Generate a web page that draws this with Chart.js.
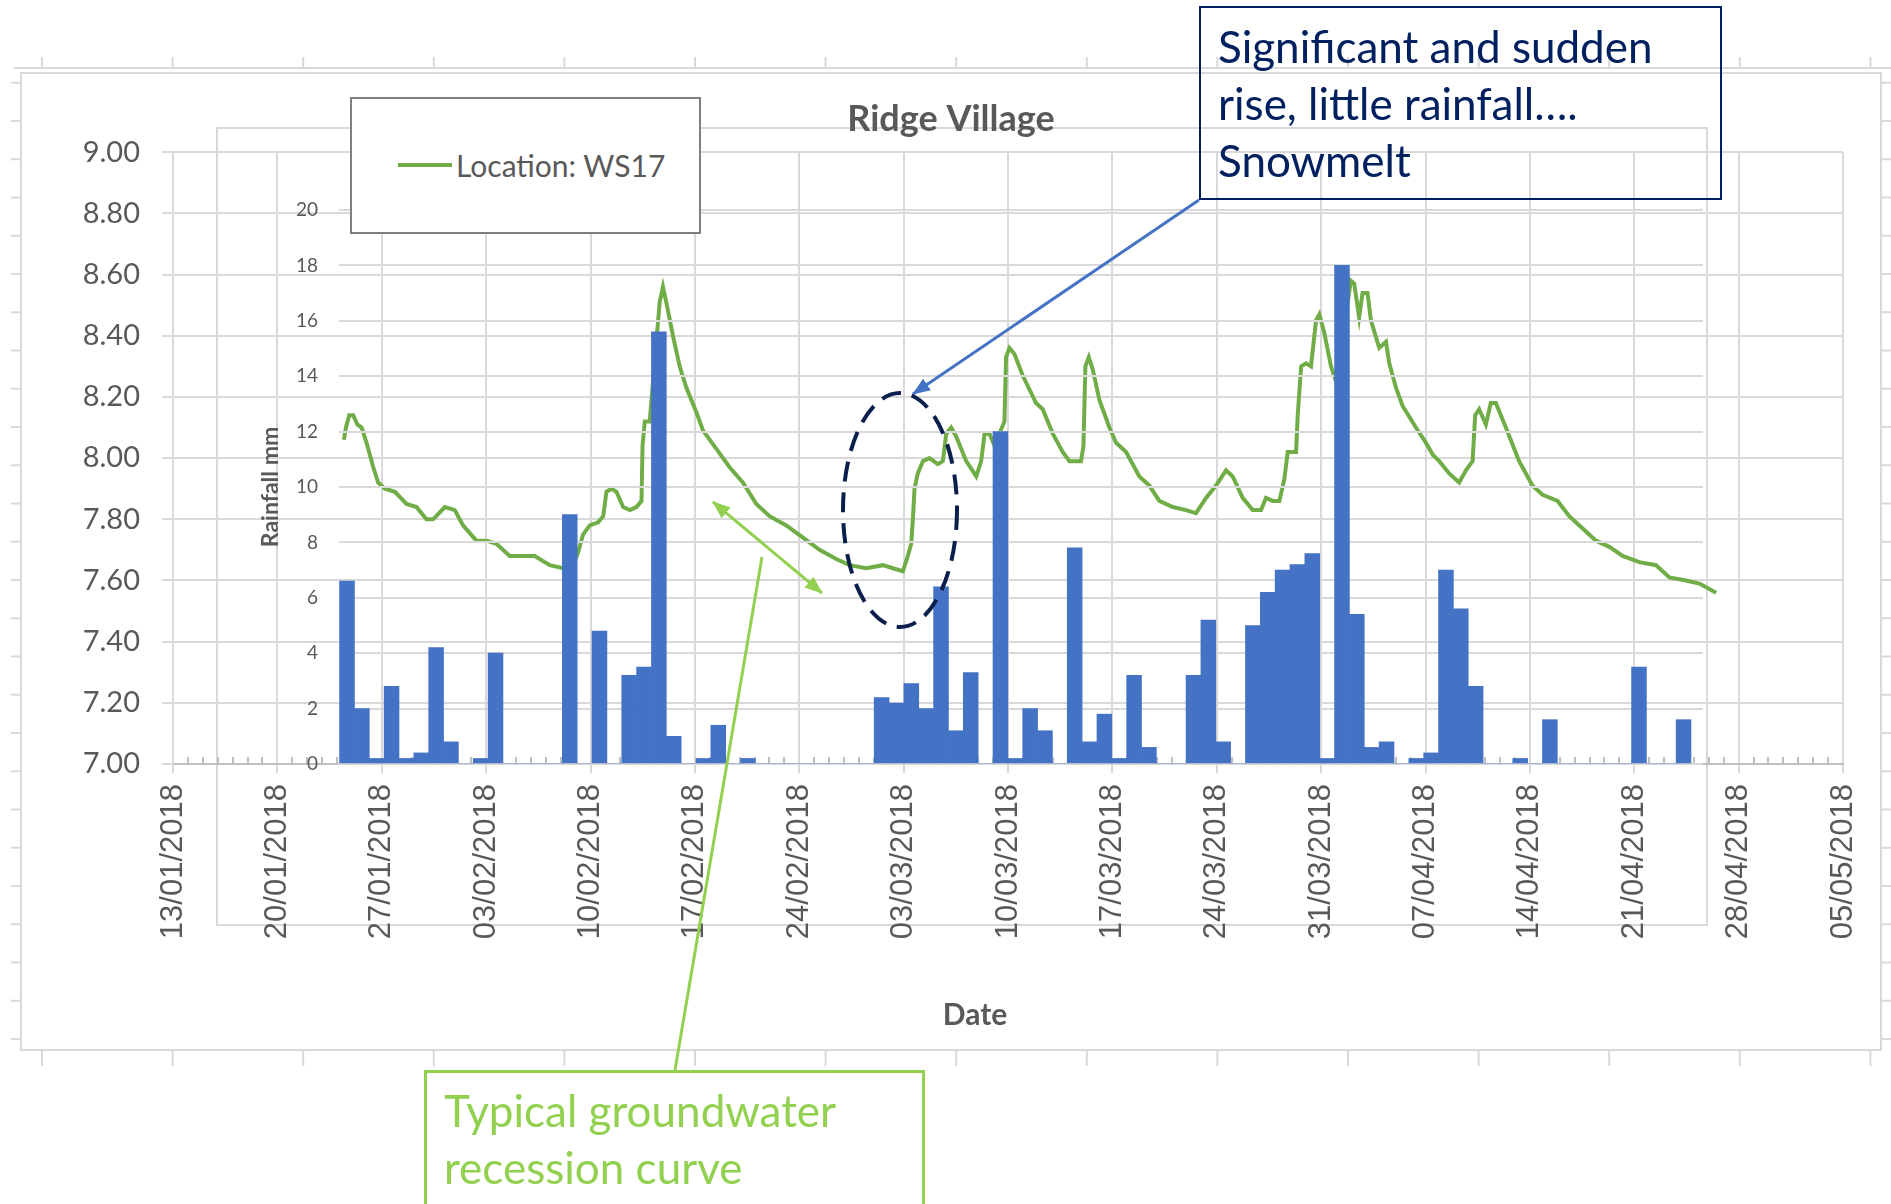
<!DOCTYPE html>
<html>
<head>
<meta charset="utf-8">
<title>Ridge Village</title>
<script src="https://cdn.jsdelivr.net/npm/chart.js@4.4.1/dist/chart.umd.min.js"></script>
<style>
  html, body { margin: 0; padding: 0; background: #fff; }
  #page { position: relative; width: 1891px; height: 1204px; overflow: hidden; background: #fff; }
  #frame, #notes { position: absolute; left: 0; top: 0; }
  #frame { z-index: 0; }
  #levelChart { position: absolute; left: 21px; top: 73px; z-index: 1; }
  #rainChart { position: absolute; left: 217px; top: 128px; z-index: 2; }
  #notes { z-index: 4; }
  .box { position: absolute; box-sizing: border-box; font-family: Lato, "Open Sans", sans-serif; }
  #legendBox { left: 350px; top: 97px; width: 351px; height: 137px; border: 2px solid #7f7f7f; background: #fff; z-index: 3; }
  #legendBox .swatch { position: absolute; left: 46px; top: 64px; width: 54px; height: 4px; background: #70AD47; }
  #legendBox .label { position: absolute; left: 104px; top: 47px; font-size: 30px; line-height: 38px; color: #595959; }
  #dateTitle { left: 875px; top: 994px; width: 200px; text-align: center; font-size: 30px; line-height: 38px;
               font-weight: bold; color: #595959; z-index: 3; }
  #snowNote { left: 1199px; top: 6px; width: 523px; height: 194px; border: 2px solid #002060; color: #002060;
              font-size: 44px; line-height: 57px; padding: 10px 0 0 17px; z-index: 5; }
  #recessionNote { left: 424px; top: 1070px; width: 501px; height: 200px; border: 3px solid #92D050; color: #92D050;
                   font-size: 44px; line-height: 57px; padding: 9px 0 0 17px; z-index: 5; }
</style>
</head>
<body>
<div id="page">
  <svg id="frame" width="1891" height="1204"></svg>
  <canvas id="levelChart" width="1860" height="977"></canvas>
  <canvas id="rainChart" width="1490" height="797"></canvas>
  <div id="legendBox" class="box"><span class="swatch"></span><span class="label" id="legendLabel"></span></div>
  <div id="dateTitle" class="box">Date</div>
  <svg id="notes" width="1891" height="1204">
    <defs>
      <marker id="blueHead" markerUnits="userSpaceOnUse" markerWidth="18" markerHeight="14" refX="17" refY="7" orient="auto">
        <path d="M0,0 L18,7 L0,14 z" fill="#4472C4"></path>
      </marker>
      <marker id="greenHead" markerUnits="userSpaceOnUse" markerWidth="18" markerHeight="14" refX="17" refY="7" orient="auto-start-reverse">
        <path d="M0,0 L18,7 L0,14 z" fill="#92D050"></path>
      </marker>
    </defs>
    <line x1="1199" y1="200" x2="913" y2="394" stroke="#4472C4" stroke-width="3" marker-end="url(#blueHead)"></line>
    <ellipse cx="900" cy="510" rx="57" ry="117" fill="none" stroke="#0b1f4d" stroke-width="4" stroke-dasharray="20 11"></ellipse>
    <line x1="713" y1="502" x2="822" y2="593" stroke="#92D050" stroke-width="3" marker-start="url(#greenHead)" marker-end="url(#greenHead)"></line>
    <line x1="675" y1="1070" x2="762" y2="557" stroke="#92D050" stroke-width="3"></line>
  </svg>
  <div id="snowNote" class="box">Significant and sudden<br>rise, little rainfall….<br>Snowmelt</div>
  <div id="recessionNote" class="box">Typical groundwater<br>recession curve</div>
</div>

<script>
// x positions are days counted from 13/01/2018
const dateTicks = ['13/01/2018', '20/01/2018', '27/01/2018', '03/02/2018', '10/02/2018', '17/02/2018',
    '24/02/2018', '03/03/2018', '10/03/2018', '17/03/2018', '24/03/2018', '31/03/2018', '07/04/2018',
    '14/04/2018', '21/04/2018', '28/04/2018', '05/05/2018'];

// groundwater level, Location: WS17
const levelDays = [11.46, 11.6, 11.82, 12.09, 12.36, 12.65, 12.98, 13.43, 13.76, 14.21, 14.88, 15.66, 16.33,
    17.0, 17.45, 18.23, 18.9, 19.45, 20.35, 21.02, 21.69, 22.58, 23.25, 24.26, 25.27, 26.16, 26.83, 27.16,
    27.5, 27.95, 28.51, 28.85, 29.07, 29.41, 29.74, 30.19, 30.64, 31.08, 31.42, 31.49, 31.64, 31.97, 32.64,
    32.86, 33.08, 33.53, 33.98, 34.43, 35.1, 35.55, 36.44, 37.33, 38.23, 39.12, 40.01, 41.13, 42.25, 43.36,
    44.48, 45.37, 46.49, 47.61, 48.28, 48.95, 49.28, 49.51, 49.62, 49.73, 49.95, 50.29, 50.73, 51.29, 51.63,
    51.86, 52.19, 52.53, 53.2, 53.87, 54.2, 54.43, 54.76, 55.1, 55.76, 55.87, 56.1, 56.43, 56.99, 57.88,
    58.33, 59.0, 59.67, 60.12, 60.35, 60.9, 61.06, 61.19, 61.42, 61.68, 62.13, 62.8, 63.25, 63.92, 64.81,
    65.48, 66.15, 67.05, 67.94, 68.61, 69.28, 69.95, 70.62, 71.07, 71.74, 72.41, 72.97, 73.3, 73.75, 74.2,
    74.53, 74.76, 75.32, 75.43, 75.66, 75.99, 76.32, 76.66, 76.88, 77.21, 77.66, 78.2, 78.66, 78.7, 78.99,
    79.22, 79.55, 79.78, 80.11, 80.34, 80.9, 81.35, 81.57, 82.02, 82.47, 83.36, 84.03, 84.5, 84.92, 85.59,
    86.26, 86.71, 87.16, 87.33, 87.6, 88.05, 88.38, 88.72, 89.39, 90.28, 91.18, 91.85, 92.86, 93.64, 94.54,
    95.43, 96.33, 97.22, 98.34, 99.46, 100.36, 101.47, 102.37, 103.49];
const levelValues = [8.06, 8.10, 8.14, 8.14, 8.11, 8.10, 8.05, 7.97, 7.92, 7.90, 7.89, 7.85, 7.84,
    7.80, 7.80, 7.84, 7.83, 7.78, 7.73, 7.73, 7.72, 7.68, 7.68, 7.68, 7.65, 7.64, 7.65, 7.69,
    7.75, 7.78, 7.79, 7.81, 7.89, 7.90, 7.89, 7.84, 7.83, 7.84, 7.86, 8.04, 8.12, 8.12, 8.51,
    8.56, 8.51, 8.40, 8.30, 8.23, 8.15, 8.09, 8.03, 7.97, 7.92, 7.85, 7.81, 7.78, 7.74, 7.70,
    7.67, 7.65, 7.64, 7.65, 7.64, 7.63, 7.68, 7.72, 7.80, 7.90, 7.95, 7.99, 8.00, 7.98, 7.99,
    8.08, 8.10, 8.07, 7.99, 7.94, 7.99, 8.08, 8.08, 8.04, 8.12, 8.33, 8.36, 8.34, 8.27, 8.18,
    8.16, 8.08, 8.02, 7.99, 7.99, 7.99, 8.04, 8.30, 8.33, 8.29, 8.19, 8.10, 8.05, 8.02, 7.94,
    7.91, 7.86, 7.84, 7.83, 7.82, 7.87, 7.91, 7.96, 7.94, 7.87, 7.83, 7.83, 7.87, 7.86, 7.86,
    7.93, 8.02, 8.02, 8.14, 8.30, 8.31, 8.30, 8.45, 8.47, 8.41, 8.30, 8.22, 8.18, 8.48, 8.58,
    8.57, 8.46, 8.54, 8.54, 8.45, 8.36, 8.38, 8.31, 8.23, 8.17, 8.10, 8.05, 8.01, 7.99, 7.95,
    7.92, 7.96, 7.99, 8.14, 8.16, 8.11, 8.18, 8.18, 8.10, 7.99, 7.91, 7.88, 7.86, 7.81, 7.77,
    7.73, 7.71, 7.68, 7.66, 7.65, 7.61, 7.60, 7.59, 7.56];

// daily rainfall (mm), first value is 24/01/2018
const rainFirstDay = 11;
const rainfall = [6.6, 2.0, 0.2, 2.8, 0.2, 0.4, 4.2, 0.8, 0, 0.2,
    4.0, 0, 0, 0, 0, 9.0, 0, 4.8, 0, 3.2,
    3.5, 15.6, 1.0, 0, 0.2, 1.4, 0, 0.2, 0, 0,
    0, 0, 0, 0, 0, 0, 2.4, 2.2, 2.9, 2.0,
    6.4, 1.2, 3.3, 0, 12.0, 0.2, 2.0, 1.2, 0, 7.8,
    0.8, 1.8, 0.2, 3.2, 0.6, 0, 0, 3.2, 5.2, 0.8,
    0, 5.0, 6.2, 7.0, 7.2, 7.6, 0.2, 18.0, 5.4, 0.6,
    0.8, 0, 0.2, 0.4, 7.0, 5.6, 2.8, 0, 0, 0.2,
    0, 1.6, 0, 0, 0, 0, 0, 3.5, 0, 0, 1.6];

const GRID = '#d9d9d9';
const TEXT = '#595959';

// small upward day ticks along the date axis
const minorTicks = {
    id: 'minorTicks',
    afterDraw(chart) {
        const xs = chart.scales.x;
        const base = chart.scales.y.getPixelForValue(chart.scales.y.min);
        const ctx = chart.ctx;
        ctx.save();
        ctx.strokeStyle = '#bfbfbf';
        ctx.lineWidth = 2;
        for (let d = Math.ceil(xs.min); d <= xs.max; d++) {
            if (d % 7 === 0) continue;
            const px = Math.round(xs.getPixelForValue(d));
            ctx.beginPath();
            ctx.moveTo(px, base);
            ctx.lineTo(px, base - 7);
            ctx.stroke();
        }
        ctx.restore();
    }
};

const levelChart = new Chart(document.getElementById('levelChart'), {
    type: 'line',
    data: {
        datasets: [{
            label: 'Location: WS17',
            data: levelDays.map((d, i) => ({ x: d, y: levelValues[i] })),
            borderColor: '#70AD47',
            borderWidth: 4,
            pointRadius: 0,
            tension: 0
        }]
    },
    options: {
        responsive: false,
        animation: false,
        layout: { padding: 0 },
        plugins: {
            legend: { display: false },
            tooltip: { enabled: false },
            title: {
                display: true,
                text: 'Ridge Village',
                color: TEXT,
                font: { family: 'Lato', size: 36, weight: 'bold' },
                padding: { top: 25, bottom: 11 }
            }
        },
        scales: {
            x: {
                type: 'linear',
                min: 0,
                max: 112,
                afterFit: (axis) => {
                    axis.height = 286;
                    axis.paddingLeft = 0;
                    axis.paddingRight = 38;
                },
                ticks: {
                    stepSize: 7,
                    autoSkip: false,
                    maxRotation: 90,
                    minRotation: 90,
                    padding: 11,
                    color: TEXT,
                    font: { family: 'Liberation Sans', size: 31 },
                    callback: (v) => dateTicks[Math.round(v / 7)]
                },
                grid: { color: GRID, lineWidth: 2, tickLength: 9 },
                border: { color: '#bfbfbf', width: 2 }
            },
            y: {
                min: 7,
                max: 9,
                afterFit: (axis) => { axis.width = 152; },
                ticks: {
                    stepSize: 0.2,
                    padding: 22,
                    color: TEXT,
                    font: { family: 'Lato', size: 29 },
                    callback: (v) => v.toFixed(2)
                },
                grid: { color: GRID, lineWidth: 2, tickLength: 11 },
                border: { color: GRID, width: 2 }
            }
        }
    },
    plugins: [minorTicks]
});

document.getElementById('legendLabel').textContent = levelChart.data.datasets[0].label;

const rainChart = new Chart(document.getElementById('rainChart'), {
    type: 'bar',
    data: {
        datasets: [{
            label: 'Rainfall mm',
            data: rainfall.map((r, i) => ({ x: rainFirstDay + i, y: r })),
            backgroundColor: '#4472C4',
            borderWidth: 0,
            barPercentage: 1,
            categoryPercentage: 1
        }]
    },
    options: {
        responsive: false,
        animation: false,
        layout: { padding: { left: 0, right: 4, top: 82, bottom: 161 } },
        plugins: {
            legend: { display: false },
            tooltip: { enabled: false }
        },
        scales: {
            x: { type: 'linear', min: 10.46, max: 102.31, offset: false, display: false },
            y: {
                min: 0,
                max: 20,
                afterFit: (axis) => { axis.width = 122; },
                ticks: {
                    stepSize: 2,
                    padding: 21,
                    color: TEXT,
                    font: { family: 'Lato', size: 19 }
                },
                grid: { color: GRID, lineWidth: 2, drawTicks: false },
                border: { display: false },
                title: {
                    display: true,
                    text: 'Rainfall mm',
                    color: TEXT,
                    font: { family: 'Lato', size: 23, weight: 'bold' },
                    padding: { top: 40, bottom: 0 }
                }
            }
        }
    }
});

// background frame: the outer chart borders and the spreadsheet ticks around them
(function drawFrame() {
    const svg = document.getElementById('frame');
    const ns = 'http://www.w3.org/2000/svg';
    function line(x1, y1, x2, y2) {
        const l = document.createElementNS(ns, 'line');
        l.setAttribute('x1', x1); l.setAttribute('y1', y1);
        l.setAttribute('x2', x2); l.setAttribute('y2', y2);
        l.setAttribute('stroke', GRID);
        l.setAttribute('stroke-width', 2);
        svg.appendChild(l);
    }
    function rect(x, y, w, h) {
        const r = document.createElementNS(ns, 'rect');
        r.setAttribute('x', x); r.setAttribute('y', y);
        r.setAttribute('width', w); r.setAttribute('height', h);
        r.setAttribute('fill', 'none');
        r.setAttribute('stroke', GRID);
        r.setAttribute('stroke-width', 2);
        svg.appendChild(r);
    }
    line(14, 68, 1891, 68);
    for (let x = 42; x < 1891; x += 130.6) {
        line(x, 57, x, 68);
        line(x, 1050, x, 1066);
    }
    for (let y = 1039; y > 78; y -= 38.25) {
        line(11, y, 21, y);
        line(1881, y, 1891, y);
    }
    rect(21, 73, 1860, 977);
    rect(217, 128, 1490, 797);
})();
</script>
</body>
</html>
